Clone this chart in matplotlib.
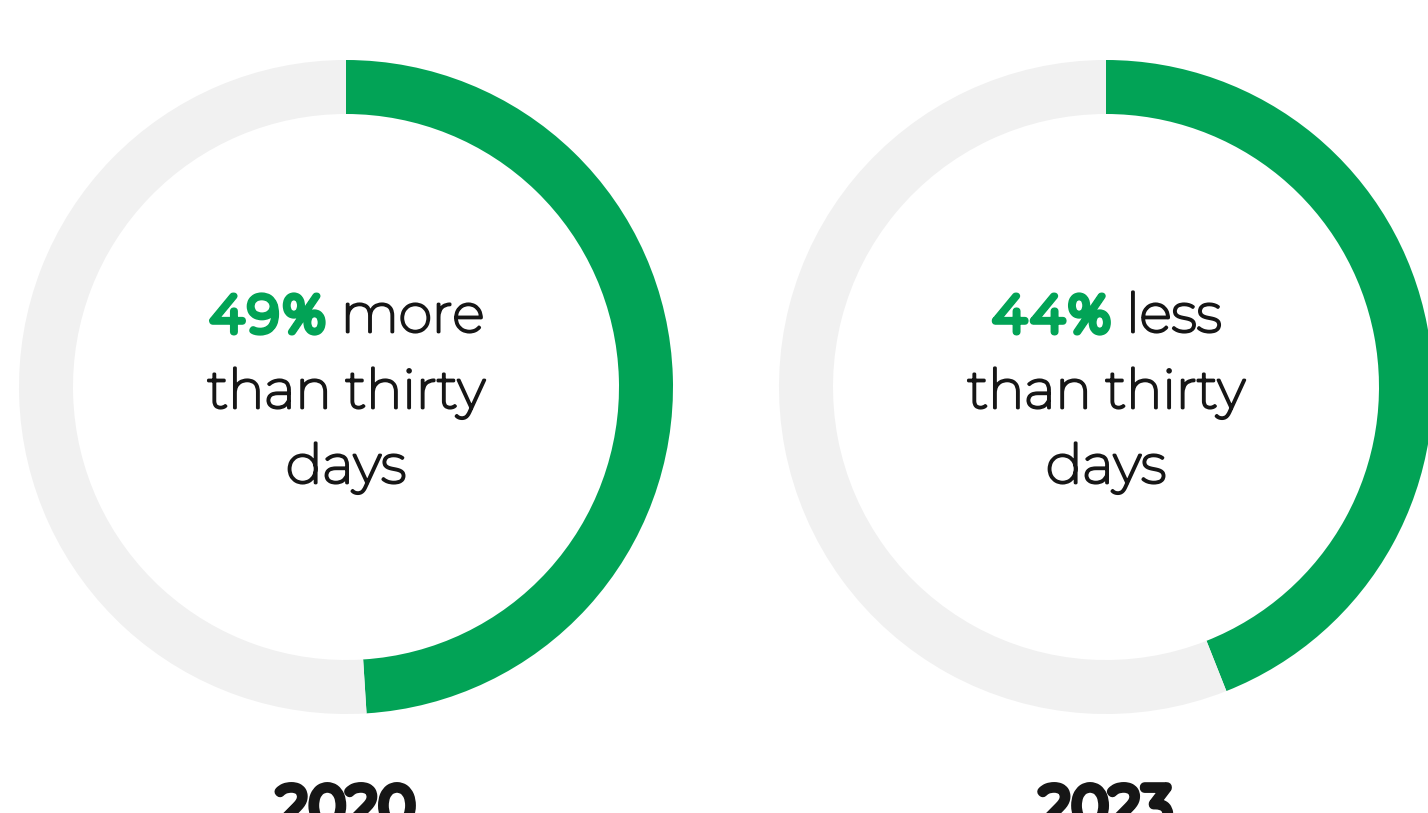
import matplotlib
matplotlib.use("Agg")
import matplotlib.pyplot as plt
import matplotlib.patheffects as pe

# data
years = ["2020", "2023"]
shares = [49, 44]
words = ["more", "less"]
rest_text = ["than thirty", "days"]

GREEN = "#02a356"
GRAY = "#f1f1f1"
DARK = "#161616"

W, H = 1428, 813
fig = plt.figure(figsize=(W / 100, H / 100), dpi=100)
ax = fig.add_axes([0, 0, 1, 1])

centers_x = [346, 1106]
cy = H - 387
r_out, ring = 327, 54

for cx, yr, pct, word in zip(centers_x, years, shares, words):
    ax.pie([pct, 100 - pct], colors=[GREEN, GRAY], center=(cx, cy), radius=r_out,
           startangle=90, counterclock=False,
           wedgeprops=dict(width=ring, linewidth=0))

ax.set_xlim(0, W)
ax.set_ylim(0, H)
ax.set_aspect("auto")
ax.axis("off")

fs = 39
fam = ["Montserrat", "DejaVu Sans"]
# only a thin Montserrat is installed, so thicken it with a stroke
reg = [pe.withStroke(linewidth=2.0, foreground=DARK)]
renderer = fig.canvas.get_renderer()


def heavy_text(s, x, y, size, color, lw, pad):
    """fake bold: stroked chars, spaced apart so they don't merge"""
    arts = []
    cur = x
    for ch in s:
        t = ax.text(cur + pad / 2, y, ch, color=color, fontsize=size, family=fam,
                    ha="left", va="baseline",
                    path_effects=[pe.withStroke(linewidth=lw, foreground=color)])
        cur += t.get_window_extent(renderer).width + pad
        arts.append(t)
    return arts, cur - x


def shift(arts, dx):
    for t in arts:
        t.set_x(t.get_position()[0] + dx)


for cx, yr, pct, word in zip(centers_x, years, shares, words):
    # first line: bold green number + regular word, centred together
    arts, w1 = heavy_text(f"{pct}%", 0, H - 332, fs - 2, GREEN, 5.0, 5)
    t2 = ax.text(0, H - 332, " " + word, color=DARK, fontsize=fs, family=fam,
                 ha="left", va="baseline", path_effects=reg)
    w2 = t2.get_window_extent(renderer).width
    x0 = cx - (w1 + w2) / 2
    shift(arts, x0)
    t2.set_x(x0 + w1)
    for i, line in enumerate(rest_text):
        ax.text(cx, H - 408 - 75 * i, line, color=DARK, fontsize=fs, family=fam,
                ha="center", va="baseline", path_effects=reg)
    arts, wy = heavy_text(yr, 0, H - 824, 38, DARK, 7, 3)
    shift(arts, cx - wy / 2)

fig.savefig("out.png", dpi=100)
